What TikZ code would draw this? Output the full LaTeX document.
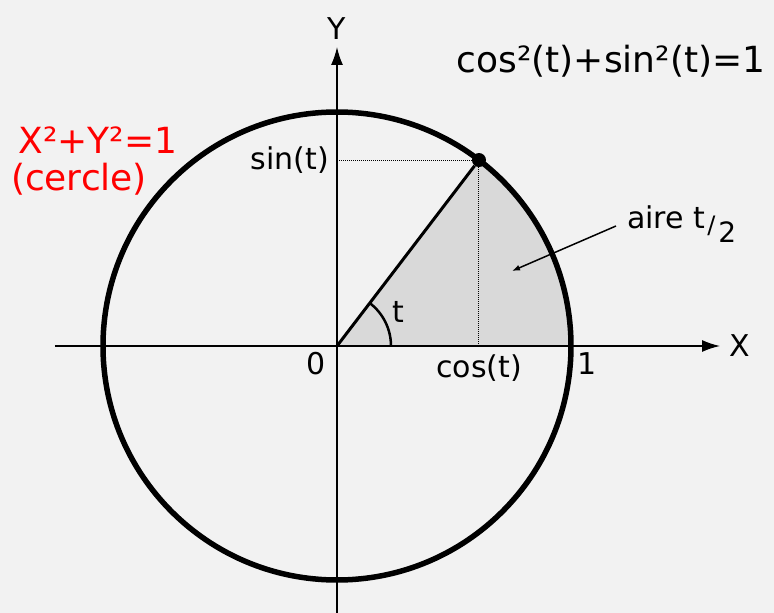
\documentclass[tikz,border=0pt]{standalone}
\usepackage{fontspec}
\setmainfont{DejaVu Sans}
\usetikzlibrary{positioning, arrows.meta}
\definecolor{bgcol}{HTML}{F2F2F2}
\definecolor{sectorcol}{HTML}{D9D9D9}

\begin{document}
\begin{tikzpicture}[
    x=1pt, y=1pt,
    >={Latex[length=18pt, width=12pt]},
    % Styles
    axis/.style={line width=1.5pt, ->},
    unitcircle/.style={line width=5.5pt},
    radial/.style={line width=3pt},
    guide/.style={line width=1pt, dash pattern=on 1pt off 1pt},
    anglearc/.style={line width=2.5pt},
    pointer/.style={line width=1.5pt, -{Latex[length=8pt, width=6pt]}},
    lbl/.style={inner sep=0pt, font=\fontsize{30}{36}\selectfont},
    bigtext/.style={inner sep=0pt, font=\fontsize{36}{43}\selectfont},
    dot/.style={circle, fill, inner sep=0pt, minimum size=14pt}
  ]
  % 0. Background (fixes the margins)
  \fill[bgcol] (-337,-267) rectangle (437,346);
  \useasboundingbox (-337,-267) rectangle (437,346);
  % 1. Origin and the point at angle t
  \coordinate (O) at (0,0);
  \fill[sectorcol] (O) -- (234,0) arc[start angle=0, end angle=52.64, radius=234pt] -- cycle;
  \node[dot] (P) at (52.64:234) {};
  \coordinate (Pfoot) at (P |- O);
  \coordinate (Pside) at (P -| O);
  % 2. Axes
  \coordinate (xstart) at (-282,0);
  \coordinate (xend) at (383,0);
  \coordinate (ystart) at (0,-267);
  \coordinate (yend) at (0,299);
  \draw[axis] (xstart) -- (xend);
  \draw[axis] (ystart) -- (yend);
  \node[lbl, right=9pt of xend] (xlab) {X};
  \node[lbl, above=7pt of yend] (ylab) {Y};
  % 3. Projections, angle and radius
  \draw[guide] (P) -- (Pside);
  \draw[guide] (P) -- (Pfoot);
  \draw[anglearc] (54,0) arc[start angle=0, end angle=52.64, radius=54pt];
  \draw[radial] (O) -- (P);
  % 4. Unit circle
  \draw[unitcircle] (O) circle[radius=234pt];
  % 5. Labels
  \node[lbl] (zero) at (-21,-18) {0};
  \node[lbl] (one) at (250,-18) {1};
  \node[lbl, below=9pt of Pfoot] (cos) {cos(t)};
  \node[lbl, left=8pt of Pside] (sin) {sin(t)};
  \node[lbl] (tlab) at (61,34) {t};
  \node[bigtext] (ident) at (274,285) {cos²(t)+sin²(t)=1};
  \node[bigtext, text=red] (circeq) at (-239,206) {X²+Y²=1};
  \node[bigtext, text=red] (cercle) at (-258,167) {(cercle)};
  \node[lbl, anchor=base west] (aire) at (290,117)
    {aire t\kern2pt{\fontsize{24}{24}\selectfont\raisebox{-5pt}{/}\kern3pt}{\fontsize{28}{28}\selectfont\raisebox{-14pt}{2}}};
  \coordinate (aireTip) at (175,75);
  \draw[pointer] ([shift={(-11pt,3pt)}]aire.base west) -- (aireTip);
\end{tikzpicture}
\end{document}
